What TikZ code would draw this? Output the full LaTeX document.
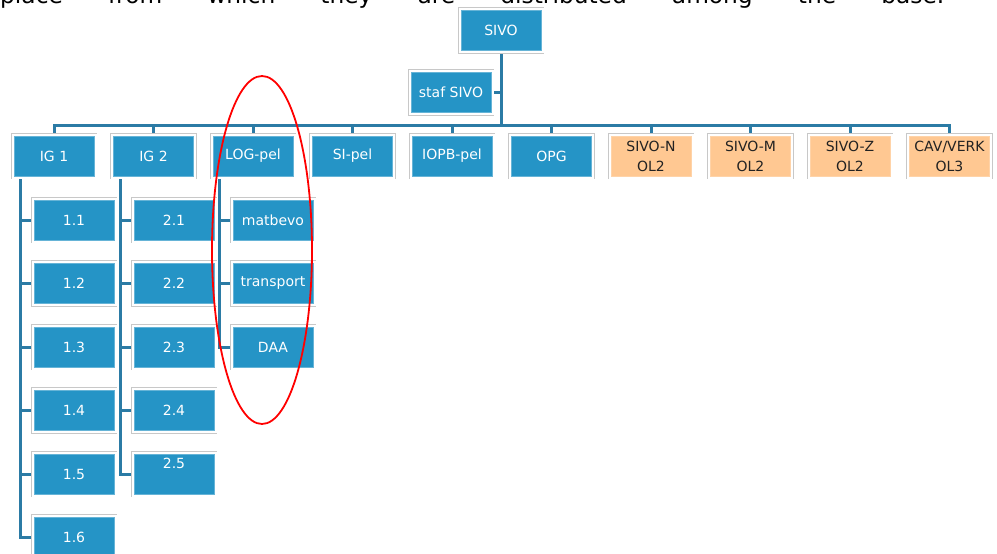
\documentclass[tikz,border=0pt]{standalone}
\usepackage{fontspec}
\setmainfont{DejaVu Sans}
\usetikzlibrary{backgrounds}

\definecolor{boxblue}{HTML}{2594C6}
\definecolor{linkblue}{HTML}{2B7BA5}
\definecolor{framegray}{HTML}{C8C8C8}
\definecolor{orangefill}{HTML}{FFC892}
\definecolor{darktext}{HTML}{222222}

\tikzset{
  framed/.style={
    preaction={draw=framegray, line width=6.6pt},
    preaction={draw=white, line width=5pt}},
  unit/.style={framed, fill=boxblue, draw=boxblue!70!white, line width=0.7pt,
    text=white, minimum width=80pt, minimum height=40pt, inner sep=2pt,
    font=\fontsize{14}{16}\selectfont},
  region/.style={unit, fill=orangefill, draw=orangefill!80!white, text=darktext,
    align=center, font=\fontsize{14}{20}\selectfont},
  link/.style={draw=linkblue, line width=3pt},
  ring/.style={draw=red, line width=1.8pt}
}

\begin{document}
\begin{tikzpicture}[x=1pt, y=-1pt]
  \useasboundingbox (0,0) rectangle (997,554);
  \clip (0,0) rectangle (997,554);

  % running text line above the chart
  \node[anchor=base west, inner sep=0pt, font=\fontsize{23.3}{28}\selectfont] (caption) at (0,4)
    {\hbox to 944pt{place\hfill from\hfill which\hfill they\hfill are\hfill distributed\hfill among\hfill the\hfill base.}};

  % top of the chart
  \node[unit] (sivo) at (501,30.5) {SIVO};
  \node[unit] (staf) at (451,92.5) {staf SIVO};
  \coordinate (bus) at (501,125);

  % first level
  \node[unit]   (ig1)   at (54,156)    {IG 1};
  \node[unit]   (ig2)   at (153.5,156) {IG 2};
  \node[unit]   (log)   at (253,156)   {LOG-pel};
  \node[unit]   (si)    at (352.5,156) {SI-pel};
  \node[unit]   (iopb)  at (452,156)   {IOPB-pel};
  \node[unit]   (opg)   at (551.5,156) {OPG};
  \node[region] (sivon) at (651,156)   {SIVO-N\\OL2};
  \node[region] (sivom) at (750.5,156) {SIVO-M\\OL2};
  \node[region] (sivoz) at (850,156)   {SIVO-Z\\OL2};
  \node[region] (cav)   at (949.5,156) {CAV/VERK\\OL3};

  % IG 1 units
  \node[unit] (c11) at (74,220)   {1.1};
  \node[unit] (c12) at (74,283.5) {1.2};
  \node[unit] (c13) at (74,347)   {1.3};
  \node[unit] (c14) at (74,410.5) {1.4};
  \node[unit] (c15) at (74,474)   {1.5};
  \node[unit] (c16) at (74,537.5) {1.6};

  % IG 2 units
  \node[unit] (c21) at (174,220)   {2.1};
  \node[unit] (c22) at (174,283.5) {2.2};
  \node[unit] (c23) at (174,347)   {2.3};
  \node[unit] (c24) at (174,410.5) {2.4};
  \node[unit, text height=10pt, text depth=22pt] (c25) at (174,474) {2.5};

  % LOG-pel sections
  \node[unit] (lg1) at (273,220)   {matbevo};
  \node[unit] (lg2) at (273,283.5) {transport};
  \node[unit] (lg3) at (273,347)   {DAA};

  % connectors behind the boxes
  \begin{scope}[on background layer]
    \draw[link] (sivo.south) -- (bus);
    \draw[link] (staf.east) -- (staf.east -| sivo.south);
    \foreach \n in {ig1,ig2,log,si,iopb,opg,sivon,sivom,sivoz,cav}
      \draw[link] (bus) -| (\n.north);
    \foreach \c in {c11,c12,c13,c14,c15,c16}
      \draw[link] ([xshift=7pt]ig1.south west) |- (\c.west);
    \foreach \c in {c21,c22,c23,c24,c25}
      \draw[link] ([xshift=7pt]ig2.south west) |- (\c.west);
    \foreach \c in {lg1,lg2,lg3}
      \draw[link] ([xshift=7pt]log.south west) |- (\c.west);
  \end{scope}

  % hand-drawn highlight around the LOG-pel branch
  \draw[ring] (262,250) ellipse [x radius=50, y radius=174];
\end{tikzpicture}
\end{document}
